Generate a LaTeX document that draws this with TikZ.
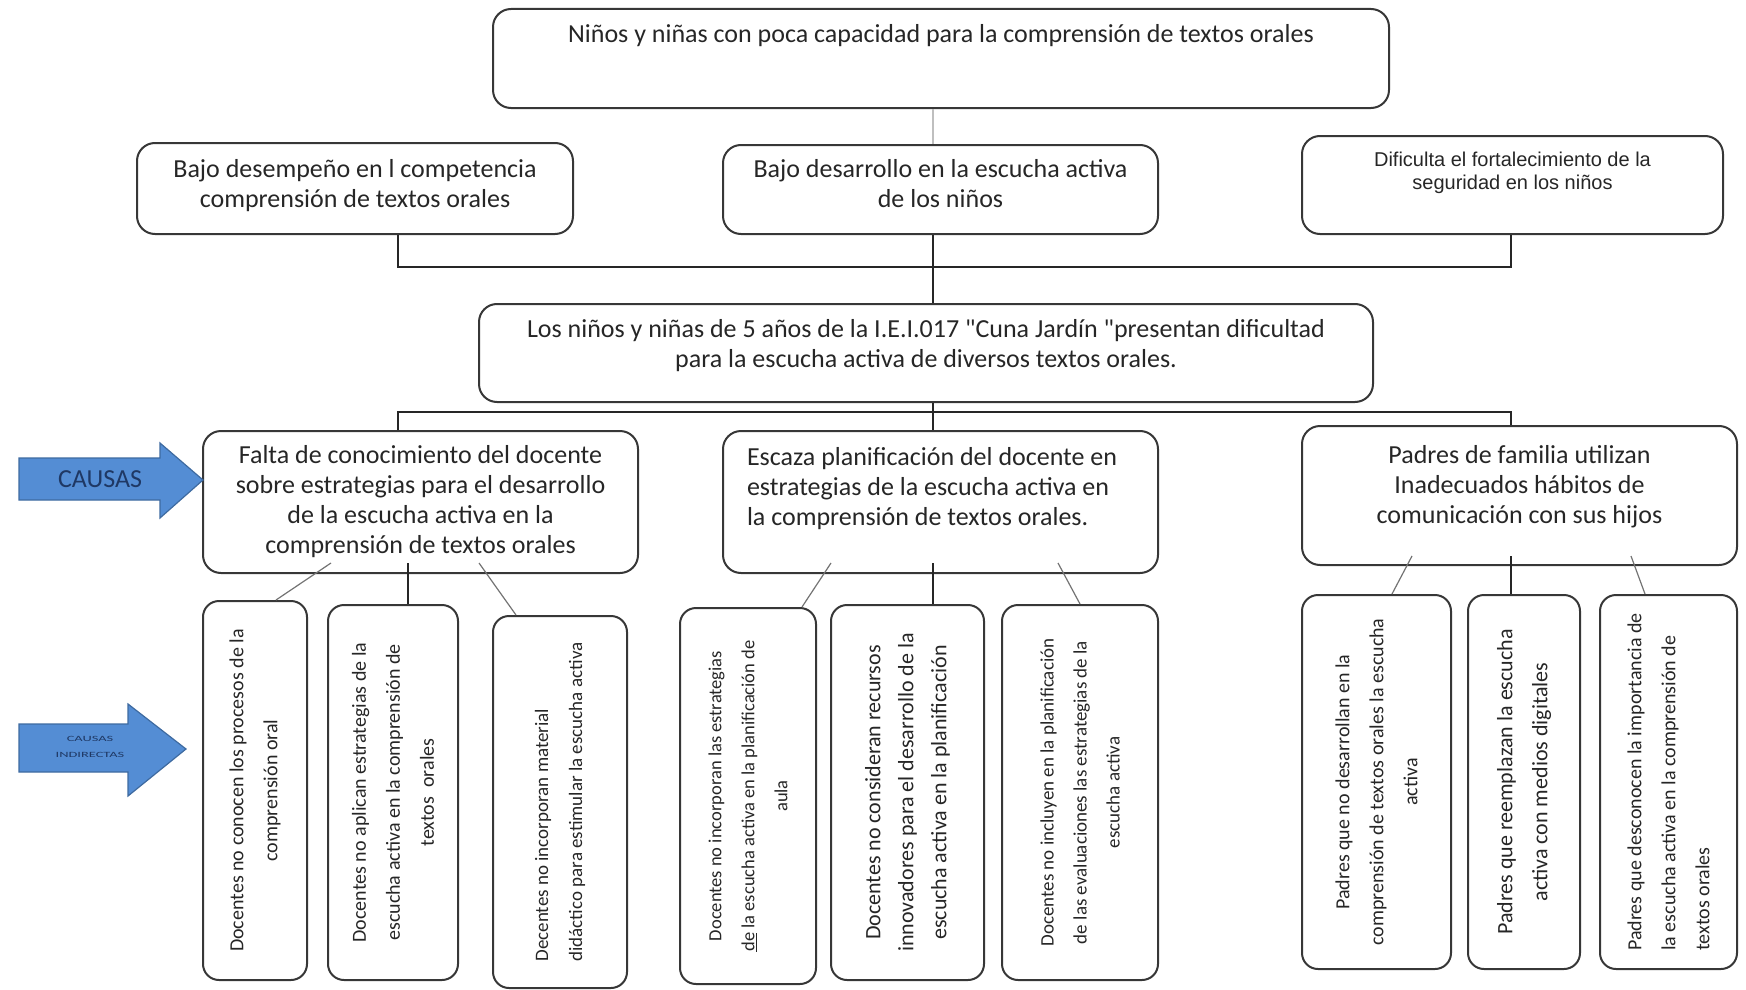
\documentclass[tikz,border=0pt]{standalone}
\usepackage{fontspec}
\setmainfont{Carlito}[Ligatures=TeXOff]
\newfontfamily\arialfont{Liberation Sans}
\usepackage{tikz}
\usetikzlibrary{calc}

\definecolor{arrowblue}{RGB}{84,141,212}
\definecolor{arrowedge}{RGB}{62,106,160}
\definecolor{arrowtext}{RGB}{31,56,100}
\definecolor{boxedge}{RGB}{55,55,55}

\begin{document}
\begin{tikzpicture}[x=1pt,y=-1pt,
		box/.style={draw=boxedge, line width=2pt, rounded corners=18pt, align=center, inner sep=0pt, text=black!85, font=\fontsize{26}{30}\selectfont},
		sub/.style={draw=boxedge, line width=2pt, rounded corners=16pt, align=center, inner sep=0pt, rotate=90, text=black!85, font=\fontsize{20}{34}\selectfont},
		link/.style={line width=1.4pt, black!85},
		twig/.style={line width=1.2pt, black!55},
		faint/.style={line width=1.2pt, black!25},
		pointer/.style={fill=arrowblue, draw=arrowedge, line width=1.2pt},
		pointertext/.style={text=arrowtext, align=center}]

		\useasboundingbox (0,0) rectangle (1746,990);

		\coordinate (axis) at (933,0);
		\coordinate (upL) at (398,267);
		\coordinate (upR) at (1511,267);
		\coordinate (loL) at (398,412);
		\coordinate (loR) at (1511,412);

		% efectos
		\node[box] (top) at (941,58.5) {\parbox[c][99pt][t]{896pt}{\centering\vspace*{15pt}Niños y niñas con poca capacidad para la comprensión de textos orales}};
		\node[box] (bl) at (355,188.5) {\parbox[c][91pt][t]{436pt}{\centering\vspace*{16pt}Bajo desempeño en l competencia\\comprensión de textos orales}};
		\node[box] (bm) at (940.5,189.5) {\parbox[c][89pt][t]{435pt}{\centering\vspace*{14pt}Bajo desarrollo en la escucha activa\\de los niños}};
		\node[box, font=\arialfont\fontsize{20}{23}\selectfont] (br) at (1512.5,185) {\parbox[c][98pt][t]{421pt}{\centering\vspace*{16pt}Dificulta el fortalecimiento de la\\seguridad en los niños}};

		% problema
		\node[box] (mid) at (926,353) {\parbox[c][98pt][t]{894pt}{\centering\vspace*{15pt}Los niños y niñas de 5 años de la I.E.I.017 "Cuna Jardín "presentan dificultad\\para la escucha activa de diversos textos orales.}};

		% causas
		\node[box, minimum width=435, minimum height=142] (c1) at (420.5,502) {Falta de conocimiento del docente\\sobre estrategias para el desarrollo\\de la escucha activa en la\\comprensión de textos orales};
		\node[box] (c2) at (940.5,502) {\parbox[c][142pt][t]{435pt}{\raggedright\leftskip=24pt\vspace*{16pt}Escaza planificación del docente en\\estrategias de la escucha activa en\\la comprensión de textos orales.}};
		\node[box] (c3) at (1519.5,495.5) {\parbox[c][139pt][t]{435pt}{\centering\vspace*{19pt}Padres de familia utilizan\\Inadecuados hábitos de\\comunicación con sus hijos}};

		% causas indirectas
		\node[sub, minimum width=379, minimum height=104] (s1) at (255,790.5) {Docentes no conocen los procesos de la\\comprensión oral};
		\node[sub, minimum width=375, minimum height=130] (s2) at (393,792.5) {Docentes no aplican estrategias de la\\escucha activa en la comprensión de\\textos\ \ orales};
		\node[sub, minimum width=372, minimum height=134, align=left, font=\fontsize{19}{34}\selectfont] (s3) at (560,802) {Decentes no incorporan material\\didáctico para estimular la escucha activa};
		\node[sub, minimum width=376, minimum height=136, font=\fontsize{18.5}{33}\selectfont] (s4) at (748,796) {Docentes no incorporan las estrategias\\\underline{de} la escucha activa en la planificación de\\aula};
		\node[sub, minimum width=375, minimum height=153, font=\fontsize{22}{33}\selectfont] (s5) at (907.5,792.5) {Docentes no consideran recursos\\innovadores para el desarrollo de la\\escucha activa en la planificación};
		\node[sub, minimum width=375, minimum height=156, font=\fontsize{19}{33}\selectfont] (s6) at (1080,792.5) {Docentes no incluyen en la planificación\\de las evaluaciones las estrategias de la\\escucha activa};
		\node[sub, minimum width=374, minimum height=149] (s7) at (1376.5,782) {Padres que no desarrollan en la\\comprensión de textos orales la escucha\\activa};
		\node[sub, minimum width=374, minimum height=112, font=\fontsize{22}{35}\selectfont] (s8) at (1524,782) {Padres que reemplazan la escucha\\activa con medios digitales};
		\node[sub, minimum width=374, minimum height=137, align=left] (s9) at (1668.5,782) {Padres que desconocen la importancia de\\la escucha activa en la comprensión de\\textos orales};

		% flechas
		\filldraw[pointer] (19,458) -- (160,458) -- (160,443) -- (203,480) -- (160,518) -- (160,500) -- (19,500) -- cycle;
		\node[pointertext, font=\fontsize{26}{28}\selectfont] (causas) at (100,479) {CAUSAS};
		\filldraw[pointer] (19,724) -- (128,724) -- (128,704) -- (186,749) -- (128,796) -- (128,772) -- (19,772) -- cycle;
		\node[pointertext, font=\fontsize{8}{16}\selectfont, xscale=1.8, transform shape] (indirectas) at (90,747) {CAUSAS\\INDIRECTAS};

		% conectores
		\draw[faint] (top.south -| axis) -- (bm.north -| axis);
		\draw[link] (bl.south -| upL) -- (upL) -- (upR) -- (br.south -| upR);
		\draw[link] (bm.south -| axis) -- (mid.north -| axis);
		\draw[link] (mid.south -| axis) -- (c2.north -| axis);
		\draw[link] (c1.north -| loL) -- (loL) -- (loR) -- (c3.north -| loR);

		\draw[twig] ([xshift=-89.5pt,yshift=11pt]c1.south) -- ([xshift=21pt]s1.east);
		\draw[link] ([xshift=-12.5pt,yshift=11pt]c1.south) -- ([xshift=15pt]s2.east);
		\draw[twig] ([xshift=58.5pt,yshift=11pt]c1.south) -- ([xshift=-44pt]s3.east);
		\draw[twig] ([xshift=-109.5pt,yshift=11pt]c2.south) -- ([xshift=54pt]s4.east);
		\draw[link] ([xshift=-7.5pt,yshift=11pt]c2.south) -- ([xshift=25.5pt]s5.east);
		\draw[twig] ([xshift=117.5pt,yshift=11pt]c2.south) -- (s6.east);
		\draw[twig] ([xshift=-107.5pt,yshift=10pt]c3.south) -- ([xshift=15.5pt]s7.east);
		\draw[link] ([xshift=-8.5pt,yshift=10pt]c3.south) -- ([xshift=-13pt]s8.east);
		\draw[twig] ([xshift=111.5pt,yshift=10pt]c3.south) -- ([xshift=-23.5pt]s9.east);

\end{tikzpicture}
\end{document}
